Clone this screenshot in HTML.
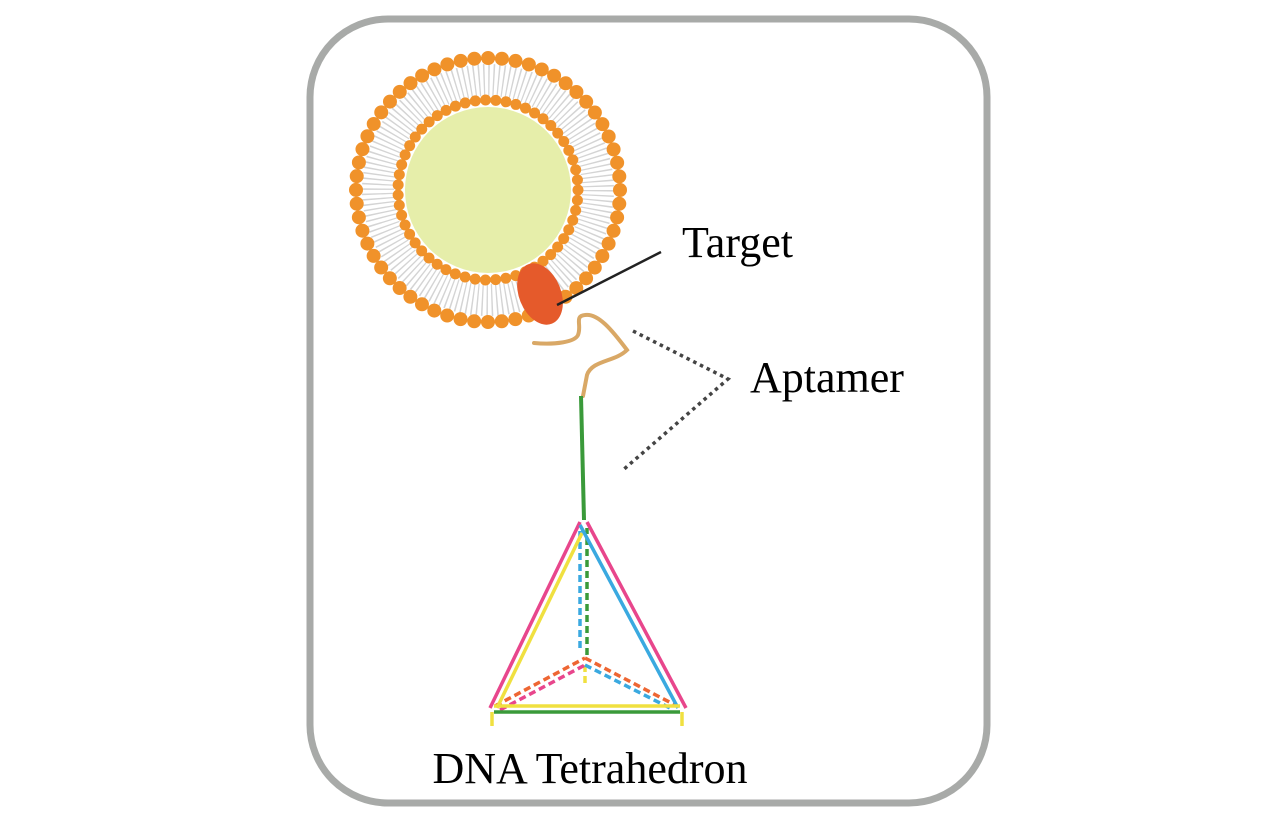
<!DOCTYPE html>
<html><head><meta charset="utf-8"><style>html,body{margin:0;padding:0;background:#fff}svg{display:block}</style></head>
<body>
<svg width="1276" height="830" viewBox="0 0 1276 830" xmlns="http://www.w3.org/2000/svg">
<rect x="310" y="19" width="677" height="784" rx="78" ry="78" fill="#fff" stroke="#a8aaa8" stroke-width="7"/>
<!-- liposome -->
<circle cx="488" cy="190" r="110" fill="none" stroke="#d4d4d4" stroke-width="32" stroke-dasharray="1.4 3.4"/>
<circle cx="488" cy="190" r="83" fill="#e6eeaa"/>
<circle cx="488" cy="190" r="132" fill="none" stroke="#f0922a" stroke-width="14" stroke-linecap="round" stroke-dasharray="0 13.82"/>
<circle cx="488" cy="190" r="90" fill="none" stroke="#f0922a" stroke-width="11" stroke-linecap="round" stroke-dasharray="0 10.28"/>
<ellipse cx="540" cy="294" rx="21" ry="32" transform="rotate(-22 540 294)" fill="#e55a2b"/>
<line x1="557" y1="305" x2="661" y2="252" stroke="#222" stroke-width="2.5"/>
<text x="682" y="257" font-family="Liberation Serif, serif" font-size="44" fill="#000">Target</text>
<!-- aptamer -->
<path d="M534,343 C555,345 575,342 578,335 C582,325 574,316 585,315 C598,313 612,330 627,350 C615,362 592,360 587,375 L583,396" fill="none" stroke="#d9a866" stroke-width="4" stroke-linecap="round"/>
<line x1="581" y1="396" x2="584" y2="520" stroke="#3a9a3a" stroke-width="4"/>
<polyline points="633,331 728,379 623,470" fill="none" stroke="#444" stroke-width="3.5" stroke-dasharray="3.5 4"/>
<text x="750" y="392" font-family="Liberation Serif, serif" font-size="44" fill="#000">Aptamer</text>
<!-- tetrahedron -->
<g fill="none" stroke-width="3.5">
<line x1="580" y1="648" x2="580" y2="528" stroke="#3aa9e0" stroke-dasharray="7 4"/>
<line x1="587" y1="655" x2="587" y2="528" stroke="#3a9a3a" stroke-dasharray="7 4"/>
<line x1="585" y1="665" x2="585" y2="685" stroke="#f0e040" stroke-dasharray="7 4"/>
<line x1="495" y1="706" x2="585" y2="658" stroke="#ee6633" stroke-dasharray="7 4"/>
<line x1="500" y1="710" x2="585" y2="665" stroke="#e8468c" stroke-dasharray="7 4"/>
<line x1="585" y1="658" x2="675" y2="705" stroke="#ee6633" stroke-dasharray="7 4"/>
<line x1="585" y1="665" x2="670" y2="708" stroke="#3aa9e0" stroke-dasharray="7 4"/>
<line x1="490" y1="708" x2="580" y2="522" stroke="#e8468c"/>
<line x1="497" y1="708" x2="582" y2="533" stroke="#f0e040"/>
<line x1="587" y1="522" x2="686" y2="708" stroke="#e8468c"/>
<line x1="580" y1="525" x2="678" y2="708" stroke="#3aa9e0"/>
<line x1="494" y1="706" x2="680" y2="706" stroke="#f0e040"/>
<line x1="494" y1="712" x2="680" y2="712" stroke="#3a9a3a"/>
<line x1="492" y1="712" x2="492" y2="726" stroke="#f0e040"/>
<line x1="682" y1="712" x2="682" y2="726" stroke="#f0e040"/>
</g>
<text x="590" y="783" text-anchor="middle" font-family="Liberation Serif, serif" font-size="44" fill="#000">DNA Tetrahedron</text>
</svg>
</body></html>
